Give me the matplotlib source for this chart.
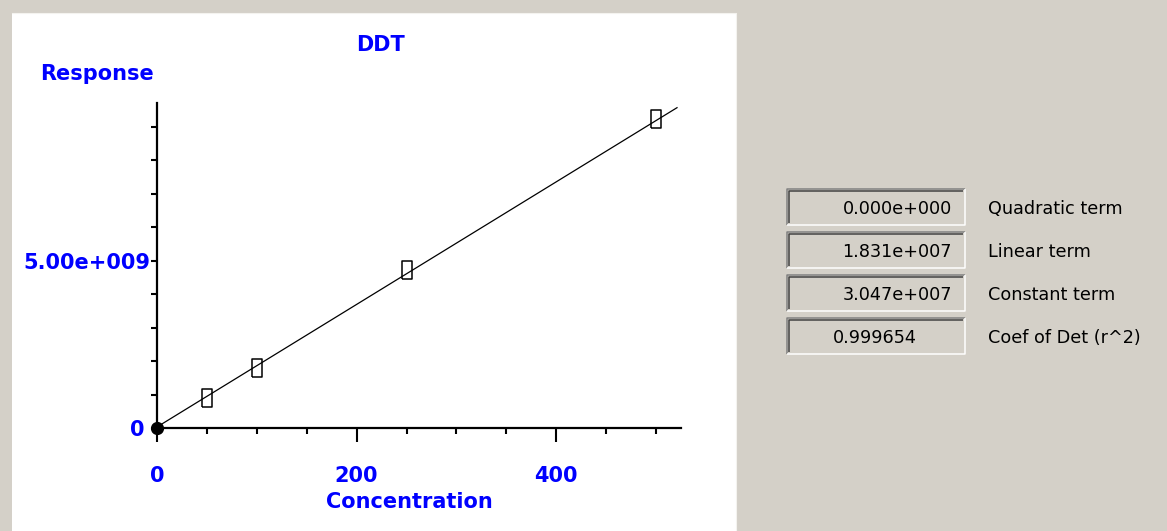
import matplotlib
matplotlib.use('Agg')
import matplotlib.pyplot as plt
import matplotlib.transforms as mtransforms
from matplotlib.patches import Rectangle

# calibration data (DDT)
conc = [0, 50, 100, 250, 500]
response = [0.0, 0.90e9, 1.80e9, 4.71e9, 9.22e9]

# fit coefficients shown in the side panel
quad_term = 0.0
lin_term = 1.831e7
const_term = 3.047e7
r2 = 0.999654
fit_x = [0, 521]

box_values = ['0.000e+000', '1.831e+007', '3.047e+007', '0.999654']
box_labels = ['Quadratic term', 'Linear term', 'Constant term', 'Coef of Det (r^2)']

W, H = 1167, 531
GRAY = '#d4d0c8'
BLUE = '#0000ff'

fig = plt.figure(figsize=(W / 100, H / 100), dpi=100, facecolor=GRAY)

# background layer in pixel coords
bg = fig.add_axes([0, 0, 1, 1], zorder=0)
bg.set_xlim(0, W)
bg.set_ylim(H, 0)
bg.axis('off')
bg.add_patch(Rectangle((12, 13), 724, 520, facecolor='white', edgecolor='none'))
bg.plot([12, 736, 736], [13, 13, 531], color='#f4f3ef', lw=0.8)

px = 0.72  # one pixel in points
for i, (val, lab) in enumerate(zip(box_values, box_labels)):
    y0 = 189 + 43 * i
    x0, x1, y1 = 787, 965, y0 + 36
    bg.add_patch(Rectangle((x0, y0), x1 - x0, y1 - y0, facecolor=GRAY, edgecolor='none'))
    # sunken 3d border
    bg.plot([x0, x0, x1], [y1, y0, y0], color='#808080', lw=1.5 * px, solid_capstyle='butt')
    bg.plot([x0 + 2, x0 + 2, x1 - 2], [y1 - 2, y0 + 2, y0 + 2], color='#404040', lw=1.5 * px, solid_capstyle='butt')
    bg.plot([x0, x1, x1], [y1, y1, y0], color='white', lw=1.5 * px, solid_capstyle='butt')
    yc = (y0 + y1) / 2 + 2
    if i < 3:
        bg.text(952, yc, val, ha='right', va='center', fontsize=12.7, color='#000000')
    else:
        bg.text(833, yc, val, ha='left', va='center', fontsize=12.7, color='#000000')
    bg.text(988, yc, lab, ha='left', va='center', fontsize=12.7, color='#000000')

# texts around the plot
bg.text(380, 45, 'DDT', ha='center', va='center', fontsize=15, fontweight='bold', color=BLUE)
bg.text(40, 74, 'Response', ha='left', va='center', fontsize=15, fontweight='bold', color=BLUE)
bg.text(409, 502, 'Concentration', ha='center', va='center', fontsize=15, fontweight='bold', color=BLUE)

# calibration plot
ax_l, ax_r, ax_t, ax_b = 157, 681, 103, 428
ax = fig.add_axes([ax_l / W, 1 - ax_b / H, (ax_r - ax_l) / W, (ax_b - ax_t) / H], zorder=2)
ax.patch.set_alpha(0)
ax.set_xlim(0, 525)
ax.set_ylim(0, 9.71e9)
for s in ['top', 'right']:
    ax.spines[s].set_visible(False)
for s in ['left', 'bottom']:
    ax.spines[s].set_linewidth(1.6)
    ax.spines[s].set_color('black')

fit_y = [quad_term * x * x + lin_term * x + const_term for x in fit_x]
ax.plot(fit_x, fit_y, color='black', lw=0.9, zorder=3)
ax.plot(conc[1:], response[1:], linestyle='none',
        marker=[(-0.5, -1), (0.5, -1), (0.5, 1), (-0.5, 1), (-0.5, -1)],
        markersize=13, markerfacecolor='none', markeredgecolor='black',
        markeredgewidth=1.1, zorder=4)
ax.plot(conc[:1], response[:1], linestyle='none', marker='o', markersize=8.5,
        color='black', zorder=5, clip_on=False)

ax.set_xticks([0, 200, 400], labels=['0', '200', '400'])
ax.set_xticks([x for x in range(50, 501, 50) if x % 200 != 0], minor=True)
ax.set_yticks([0, 5e9], labels=['0', '5.00e+009'])
ax.set_yticks([i * 1e9 for i in range(1, 10) if i != 5], minor=True)
ax.tick_params(axis='x', which='major', direction='out', length=10, width=1.5, pad=17,
               labelsize=15, labelcolor=BLUE)
ax.tick_params(axis='x', which='minor', direction='out', length=4, width=1.5)
ax.tick_params(axis='y', which='both', direction='out', length=4, width=1.5, pad=1,
               labelsize=15, labelcolor=BLUE)
for lbl in ax.get_xticklabels() + ax.get_yticklabels():
    lbl.set_fontweight('bold')
zero_lbl = ax.yaxis.get_major_ticks()[0].label1
zero_lbl.set_transform(zero_lbl.get_transform() +
                       mtransforms.ScaledTranslation(-6 / 100, 0, fig.dpi_scale_trans))

fig.savefig('out.png', dpi=100, facecolor=GRAY)
